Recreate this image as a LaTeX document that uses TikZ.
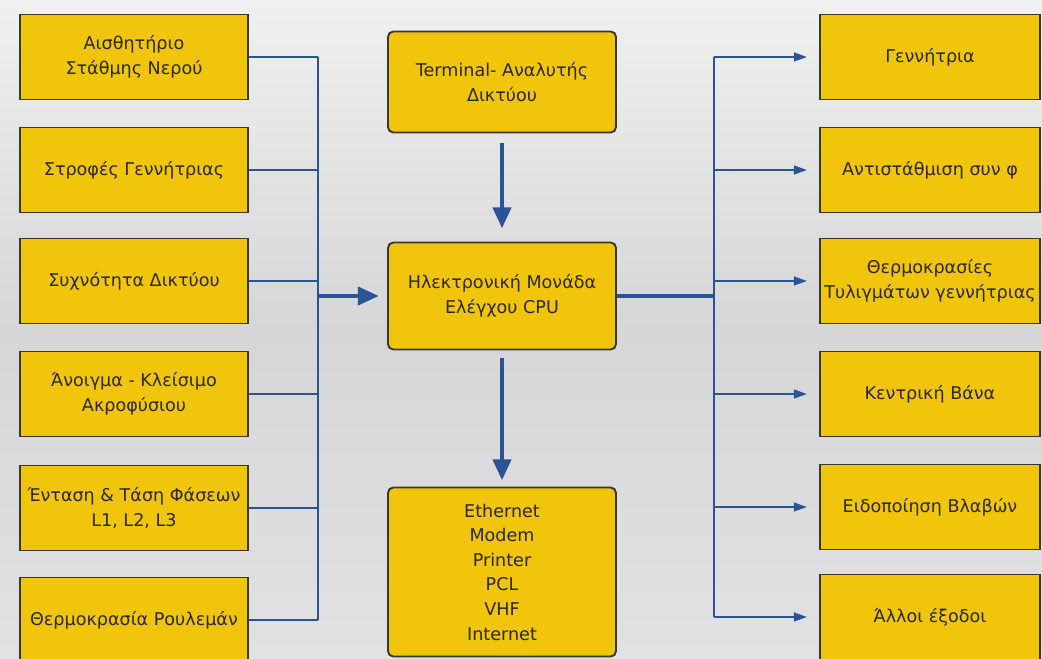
\documentclass[tikz,border=0pt]{standalone}
\usepackage{fontspec}
\setmainfont{DejaVu Sans}
\usetikzlibrary{arrows.meta}

\definecolor{boxyellow}{RGB}{240,197,12}
\definecolor{boxedge}{RGB}{58,56,44}
\definecolor{linkblue}{RGB}{42,84,150}
\definecolor{inktext}{RGB}{44,40,30}
\definecolor{skylight}{RGB}{240,240,240}
\definecolor{skymid}{RGB}{214,214,216}
\definecolor{skylow}{RGB}{226,226,228}

\begin{document}
\begin{tikzpicture}[x=0.02cm, y=-0.02cm,
    sidebox/.style={draw=boxedge, line width=1.1pt, fill=boxyellow, text=inktext,
      minimum width=4.56cm, minimum height=1.7cm, align=center,
      font=\fontsize{10}{14}\selectfont},
    outbox/.style={sidebox, minimum width=4.4cm, inner xsep=1pt},
    cpubox/.style={sidebox, rounded corners=3pt},
    feedline/.style={draw=linkblue, line width=1.1pt},
    feedarrow/.style={feedline, -{Triangle[length=7.5pt,width=5pt]}, shorten >=2.4mm},
    busline/.style={draw=linkblue, line width=2pt},
    mainarrow/.style={draw=linkblue, line width=2.8pt, -{Triangle[length=12pt,width=10pt]}}]

  % background
  \useasboundingbox (0,0) rectangle (1042,659);
  \clip (0,0) rectangle (1042,659);
  \shade[top color=skylight, bottom color=skylow, middle color=skymid] (0,0) rectangle (1042,659);

  % inputs
  \node[sidebox] (s1) at (134,57) {Αισθητήριο\\Στάθμης Νερού};
  \node[sidebox] (s2) at (134,170) {Στροφές Γεννήτριας};
  \node[sidebox] (s3) at (134,281) {Συχνότητα Δικτύου};
  \node[sidebox] (s4) at (134,394) {Άνοιγμα - Κλείσιμο\\Ακροφύσιου};
  \node[sidebox] (s5) at (134,508) {Ένταση \& Τάση Φάσεων\\L1, L2, L3};
  \node[sidebox] (s6) at (134,620) {Θερμοκρασία Ρουλεμάν};

  % centre
  \node[cpubox, minimum height=2.02cm] (term) at (502,82) {Terminal- Αναλυτής\\Δικτύου};
  \node[cpubox, minimum height=2.14cm] (cpu) at (502,296) {Ηλεκτρονική Μονάδα\\Ελέγχου CPU};
  \node[cpubox, minimum height=3.38cm] (net) at (502,572) {Ethernet\\Modem\\Printer\\PCL\\VHF\\Internet};

  % outputs
  \node[outbox] (o1) at (930,57) {Γεννήτρια};
  \node[outbox] (o2) at (930,170) {Αντιστάθμιση συν φ};
  \node[outbox] (o3) at (930,281) {Θερμοκρασίες\\Τυλιγμάτων γεννήτριας};
  \node[outbox] (o4) at (930,394) {Κεντρική Βάνα};
  \node[outbox] (o5) at (930,507) {Ειδοποίηση Βλαβών};
  \node[outbox] (o6) at (930,617) {Άλλοι έξοδοι};

  \coordinate (lbus) at (318,0);
  \coordinate (rbus) at (714,0);

  % left bus
  \foreach \n in {1,...,6}
    \draw[feedline] (s\n.east) -- (s\n.east -| lbus);
  \draw[feedline] (s1.east -| lbus) -- (s6.east -| lbus);
  \draw[mainarrow, shorten >=1.6mm] (cpu.west -| lbus) -- (cpu.west);

  % right bus
  \draw[busline] (cpu.east) -- (cpu.east -| rbus);
  \draw[feedline] (o1.west -| rbus) -- (o6.west -| rbus);
  \foreach \n in {1,...,6}
    \draw[feedarrow] (o\n.west -| rbus) -- (o\n.west);

  % down arrows
  \draw[mainarrow, shorten <=2mm, shorten >=2.6mm] (term.south) -- (cpu.north);
  \draw[mainarrow, shorten <=1.6mm, shorten >=1.2mm] (cpu.south) -- (net.north);
\end{tikzpicture}
\end{document}
